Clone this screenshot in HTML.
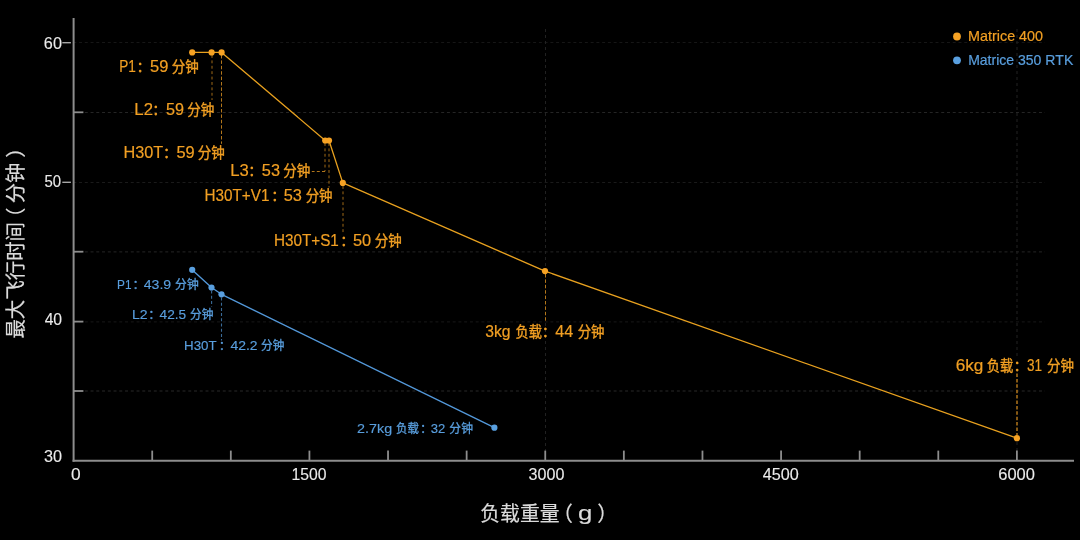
<!DOCTYPE html>
<html lang="zh">
<head>
<meta charset="utf-8">
<title>Matrice 400 vs Matrice 350 RTK</title>
<style>
html,body{margin:0;padding:0;background:#000;}
body{width:1080px;height:540px;overflow:hidden;}
svg{display:block;}
text{font-family:"Liberation Sans","Noto Sans CJK SC",sans-serif;font-kerning:none;}
</style>
</head>
<body>
<svg width="1080" height="540" viewBox="0 0 1080 540" role="img">
<desc>最大飞行时间（分钟） / 负载重量（g）. Matrice 400: P1：59 分钟, L2：59 分钟, H30T：59 分钟, L3：53 分钟, H30T+V1：53 分钟, H30T+S1：50 分钟, 3kg 负载：44 分钟, 6kg 负载：31 分钟. Matrice 350 RTK: P1：43.9 分钟, L2：42.5 分钟, H30T：42.2 分钟, 2.7kg 负载：32 分钟.</desc>
<rect width="1080" height="540" fill="#000"/>
<g opacity="0.999">
<line x1="73.3" y1="42.50" x2="1045" y2="42.50" stroke="#171717" stroke-width="1" stroke-dasharray="3 2.748"/>
<line x1="73.3" y1="112.50" x2="1045" y2="112.50" stroke="#262626" stroke-width="1" stroke-dasharray="3 2.748"/>
<line x1="73.3" y1="182.45" x2="1045" y2="182.45" stroke="#1d1d1d" stroke-width="1" stroke-dasharray="3 2.748"/>
<line x1="73.3" y1="251.90" x2="1045" y2="251.90" stroke="#272727" stroke-width="1" stroke-dasharray="3 2.748"/>
<line x1="73.3" y1="321.90" x2="1045" y2="321.90" stroke="#1a1a1a" stroke-width="1" stroke-dasharray="3 2.748"/>
<line x1="73.3" y1="391.00" x2="1045" y2="391.00" stroke="#2a2a2a" stroke-width="1" stroke-dasharray="3 2.748"/>
<line x1="545.5" y1="29.0" x2="545.5" y2="268.0" stroke="#222222" stroke-width="1.1" stroke-dasharray="3 3"/>
<line x1="545.5" y1="323.0" x2="545.5" y2="459.8" stroke="#222222" stroke-width="1.1" stroke-dasharray="3 3"/>
<line x1="1017.0" y1="29.0" x2="1017.0" y2="359.0" stroke="#222222" stroke-width="1.1" stroke-dasharray="3 3"/>
<line x1="1017.0" y1="442.0" x2="1017.0" y2="450.8" stroke="#222222" stroke-width="1.1" stroke-dasharray="3 3"/>
<line x1="73.6" y1="18" x2="73.6" y2="461.8" stroke="#8e8e8e" stroke-width="2"/>
<line x1="72.6" y1="460.8" x2="1074" y2="460.8" stroke="#8e8e8e" stroke-width="2"/>
<line x1="152.21" y1="450.6" x2="152.21" y2="460.8" stroke="#8e8e8e" stroke-width="1.8"/>
<line x1="230.82" y1="450.6" x2="230.82" y2="460.8" stroke="#8e8e8e" stroke-width="1.8"/>
<line x1="309.42" y1="450.6" x2="309.42" y2="460.8" stroke="#8e8e8e" stroke-width="1.8"/>
<line x1="388.03" y1="450.6" x2="388.03" y2="460.8" stroke="#8e8e8e" stroke-width="1.8"/>
<line x1="466.64" y1="450.6" x2="466.64" y2="460.8" stroke="#8e8e8e" stroke-width="1.8"/>
<line x1="545.25" y1="450.6" x2="545.25" y2="460.8" stroke="#8e8e8e" stroke-width="1.8"/>
<line x1="623.86" y1="450.6" x2="623.86" y2="460.8" stroke="#8e8e8e" stroke-width="1.8"/>
<line x1="702.47" y1="450.6" x2="702.47" y2="460.8" stroke="#8e8e8e" stroke-width="1.8"/>
<line x1="781.08" y1="450.6" x2="781.08" y2="460.8" stroke="#8e8e8e" stroke-width="1.8"/>
<line x1="859.68" y1="450.6" x2="859.68" y2="460.8" stroke="#8e8e8e" stroke-width="1.8"/>
<line x1="938.29" y1="450.6" x2="938.29" y2="460.8" stroke="#8e8e8e" stroke-width="1.8"/>
<line x1="1016.90" y1="450.6" x2="1016.90" y2="460.8" stroke="#8e8e8e" stroke-width="1.8"/>
<line x1="62.3" y1="42.70" x2="70.9" y2="42.70" stroke="#a8a8a8" stroke-width="1.4"/>
<line x1="62.3" y1="182.30" x2="70.9" y2="182.30" stroke="#a8a8a8" stroke-width="1.4"/>
<line x1="73.6" y1="112.30" x2="83.4" y2="112.30" stroke="#8e8e8e" stroke-width="1.8"/>
<line x1="73.6" y1="251.70" x2="83.4" y2="251.70" stroke="#8e8e8e" stroke-width="1.8"/>
<line x1="73.6" y1="321.60" x2="83.4" y2="321.60" stroke="#8e8e8e" stroke-width="1.8"/>
<line x1="73.6" y1="391.00" x2="83.4" y2="391.00" stroke="#8e8e8e" stroke-width="1.8"/>
<text x="43.88" y="49.20" font-size="16.00" fill="#ececec" textLength="18.06" lengthAdjust="spacingAndGlyphs" stroke="#ececec" stroke-width="0.12">60</text>
<text x="44.40" y="187.00" font-size="16.00" fill="#ececec" textLength="16.58" lengthAdjust="spacingAndGlyphs" stroke="#ececec" stroke-width="0.12">50</text>
<text x="44.64" y="325.00" font-size="16.00" fill="#ececec" textLength="17.47" lengthAdjust="spacingAndGlyphs" stroke="#ececec" stroke-width="0.12">40</text>
<text x="44.08" y="462.00" font-size="16.00" fill="#ececec" textLength="18.05" lengthAdjust="spacingAndGlyphs" stroke="#ececec" stroke-width="0.12">30</text>
<text x="71.02" y="480.00" font-size="16.00" fill="#ececec" textLength="9.66" lengthAdjust="spacingAndGlyphs" stroke="#ececec" stroke-width="0.12">0</text>
<text x="291.60" y="480.00" font-size="16.00" fill="#ececec" textLength="35.01" lengthAdjust="spacingAndGlyphs" stroke="#ececec" stroke-width="0.12">1500</text>
<text x="528.59" y="480.00" font-size="16.00" fill="#ececec" textLength="35.84" lengthAdjust="spacingAndGlyphs" stroke="#ececec" stroke-width="0.12">3000</text>
<text x="762.83" y="480.00" font-size="16.00" fill="#ececec" textLength="36.00" lengthAdjust="spacingAndGlyphs" stroke="#ececec" stroke-width="0.12">4500</text>
<text x="998.26" y="480.00" font-size="16.00" fill="#ececec" textLength="36.68" lengthAdjust="spacingAndGlyphs" stroke="#ececec" stroke-width="0.12">6000</text>
<text x="480.25" y="521.00" font-size="20.40" fill="#dcdcdc" textLength="79.43" lengthAdjust="spacingAndGlyphs" stroke="#dcdcdc" stroke-width="0.2">负载重量</text>
<text x="552.48" y="521.00" font-size="20.40" fill="#dcdcdc" stroke="#dcdcdc" stroke-width="0.2">（</text>
<text x="577.92" y="520.40" font-size="20.50" fill="#dcdcdc" textLength="14.35" lengthAdjust="spacingAndGlyphs" stroke="#dcdcdc" stroke-width="0.15">g</text>
<text x="597.22" y="521.00" font-size="20.40" fill="#dcdcdc" stroke="#dcdcdc" stroke-width="0.2">）</text>
<text transform="translate(23.10 338.61) rotate(-90)" x="0" y="0" font-size="20.20" fill="#dcdcdc" textLength="116.67" lengthAdjust="spacingAndGlyphs" stroke="#dcdcdc" stroke-width="0.2">最大飞行时间</text>
<text transform="translate(23.10 227.65) rotate(-90)" x="0" y="0" font-size="20.20" fill="#dcdcdc" stroke="#dcdcdc" stroke-width="0.2">（</text>
<text transform="translate(23.10 203.15) rotate(-90)" x="0" y="0" font-size="20.20" fill="#dcdcdc" textLength="40.52" lengthAdjust="spacingAndGlyphs" stroke="#dcdcdc" stroke-width="0.2">分钟</text>
<text transform="translate(23.10 157.75) rotate(-90)" x="0" y="0" font-size="20.20" fill="#dcdcdc" stroke="#dcdcdc" stroke-width="0.2">）</text>
<line x1="212.00" y1="55.00" x2="212.00" y2="100.00" stroke="#a06a19" stroke-width="1.00" stroke-dasharray="2.9 2.5"/>
<line x1="221.50" y1="55.00" x2="221.50" y2="143.80" stroke="#b3771c" stroke-width="1.00" stroke-dasharray="3.5 1.9"/>
<line x1="325.00" y1="143.00" x2="325.00" y2="171.30" stroke="#a06a19" stroke-width="1.00" stroke-dasharray="2.9 2.5"/>
<line x1="325.00" y1="171.50" x2="311.80" y2="171.50" stroke="#b3771c" stroke-width="1.00" stroke-dasharray="3 2.2"/>
<line x1="329.00" y1="143.00" x2="329.00" y2="187.50" stroke="#a06a19" stroke-width="1.00" stroke-dasharray="2.9 2.5"/>
<line x1="343.00" y1="186.00" x2="343.00" y2="232.50" stroke="#a06a19" stroke-width="1.00" stroke-dasharray="2.9 2.5"/>
<line x1="545.50" y1="274.00" x2="545.50" y2="321.50" stroke="#b3771c" stroke-width="1.00" stroke-dasharray="3.5 1.9"/>
<line x1="1017.00" y1="373.50" x2="1017.00" y2="435.00" stroke="#b3771c" stroke-width="1.50" stroke-dasharray="3.5 1.9"/>
<line x1="211.60" y1="290.50" x2="211.60" y2="306.50" stroke="#3b6c98" stroke-width="1.10" stroke-dasharray="3 2.2"/>
<line x1="221.50" y1="297.50" x2="221.50" y2="340.50" stroke="#3b6c98" stroke-width="1.10" stroke-dasharray="3 2.2"/>
<polyline fill="none" stroke="#e9a220" stroke-width="1.3" stroke-linejoin="round" points="192.2,52.4 211.6,52.4 221.6,52.4 325.2,140.5 329.0,140.5 342.8,182.9 545.0,271.1 1016.9,438.2"/>
<polyline fill="none" stroke="#5499da" stroke-width="1.35" stroke-linejoin="round" points="192.2,269.9 211.5,287.5 221.5,294.3 494.4,427.7"/>
<circle cx="192.2" cy="52.4" r="3.1" fill="#f7a325"/>
<circle cx="211.6" cy="52.4" r="3.1" fill="#f7a325"/>
<circle cx="221.6" cy="52.4" r="3.1" fill="#f7a325"/>
<circle cx="325.2" cy="140.5" r="3.1" fill="#f7a325"/>
<circle cx="329.0" cy="140.5" r="3.1" fill="#f7a325"/>
<circle cx="342.8" cy="182.9" r="3.1" fill="#f7a325"/>
<circle cx="545.0" cy="271.1" r="3.1" fill="#f7a325"/>
<circle cx="1016.9" cy="438.2" r="3.1" fill="#f7a325"/>
<circle cx="192.2" cy="269.9" r="3.1" fill="#5aa0e0"/>
<circle cx="211.5" cy="287.5" r="3.1" fill="#5aa0e0"/>
<circle cx="221.5" cy="294.3" r="3.1" fill="#5aa0e0"/>
<circle cx="494.4" cy="427.7" r="3.1" fill="#5aa0e0"/>
<text x="119.28" y="71.75" font-size="16.00" fill="#f2a024" textLength="16.63" lengthAdjust="spacingAndGlyphs" stroke="#f2a024" stroke-width="0.20">P1</text>
<text x="136.47" y="71.75" font-size="14.50" fill="#f2a024" stroke="#f2a024" stroke-width="0.4">：</text>
<text x="150.14" y="71.75" font-size="16.00" fill="#f2a024" textLength="18.34" lengthAdjust="spacingAndGlyphs" stroke="#f2a024" stroke-width="0.20">59</text>
<text x="171.65" y="71.75" font-size="14.50" fill="#f2a024" textLength="27.05" lengthAdjust="spacingAndGlyphs" stroke="#f2a024" stroke-width="0.4">分钟</text>
<text x="134.33" y="115.00" font-size="16.00" fill="#f2a024" textLength="18.61" lengthAdjust="spacingAndGlyphs" stroke="#f2a024" stroke-width="0.20">L2</text>
<text x="152.32" y="115.00" font-size="14.50" fill="#f2a024" stroke="#f2a024" stroke-width="0.4">：</text>
<text x="166.05" y="115.00" font-size="16.00" fill="#f2a024" textLength="18.02" lengthAdjust="spacingAndGlyphs" stroke="#f2a024" stroke-width="0.20">59</text>
<text x="187.25" y="115.00" font-size="14.50" fill="#f2a024" textLength="27.10" lengthAdjust="spacingAndGlyphs" stroke="#f2a024" stroke-width="0.4">分钟</text>
<text x="123.57" y="158.00" font-size="16.00" fill="#f2a024" textLength="39.70" lengthAdjust="spacingAndGlyphs" stroke="#f2a024" stroke-width="0.20">H30T</text>
<text x="163.07" y="158.00" font-size="14.50" fill="#f2a024" stroke="#f2a024" stroke-width="0.4">：</text>
<text x="176.44" y="158.00" font-size="16.00" fill="#f2a024" textLength="18.23" lengthAdjust="spacingAndGlyphs" stroke="#f2a024" stroke-width="0.20">59</text>
<text x="197.80" y="158.00" font-size="14.50" fill="#f2a024" textLength="27.05" lengthAdjust="spacingAndGlyphs" stroke="#f2a024" stroke-width="0.4">分钟</text>
<text x="230.34" y="176.00" font-size="16.00" fill="#f2a024" textLength="18.49" lengthAdjust="spacingAndGlyphs" stroke="#f2a024" stroke-width="0.20">L3</text>
<text x="248.18" y="176.00" font-size="14.50" fill="#f2a024" stroke="#f2a024" stroke-width="0.4">：</text>
<text x="261.85" y="176.00" font-size="16.00" fill="#f2a024" textLength="18.17" lengthAdjust="spacingAndGlyphs" stroke="#f2a024" stroke-width="0.20">53</text>
<text x="283.20" y="176.00" font-size="14.50" fill="#f2a024" textLength="27.05" lengthAdjust="spacingAndGlyphs" stroke="#f2a024" stroke-width="0.4">分钟</text>
<text x="204.55" y="200.80" font-size="16.00" fill="#f2a024" textLength="64.90" lengthAdjust="spacingAndGlyphs" stroke="#f2a024" stroke-width="0.20">H30T+V1</text>
<text x="271.27" y="200.80" font-size="14.50" fill="#f2a024" stroke="#f2a024" stroke-width="0.4">：</text>
<text x="283.65" y="200.80" font-size="16.00" fill="#f2a024" textLength="18.17" lengthAdjust="spacingAndGlyphs" stroke="#f2a024" stroke-width="0.20">53</text>
<text x="305.70" y="200.80" font-size="14.50" fill="#f2a024" textLength="26.85" lengthAdjust="spacingAndGlyphs" stroke="#f2a024" stroke-width="0.4">分钟</text>
<text x="273.95" y="245.50" font-size="16.00" fill="#f2a024" textLength="64.90" lengthAdjust="spacingAndGlyphs" stroke="#f2a024" stroke-width="0.20">H30T+S1</text>
<text x="340.18" y="245.50" font-size="14.50" fill="#f2a024" stroke="#f2a024" stroke-width="0.4">：</text>
<text x="352.95" y="245.50" font-size="16.00" fill="#f2a024" textLength="18.19" lengthAdjust="spacingAndGlyphs" stroke="#f2a024" stroke-width="0.20">50</text>
<text x="374.80" y="245.50" font-size="14.50" fill="#f2a024" textLength="26.95" lengthAdjust="spacingAndGlyphs" stroke="#f2a024" stroke-width="0.4">分钟</text>
<text x="485.20" y="337.30" font-size="16.00" fill="#f2a024" textLength="25.31" lengthAdjust="spacingAndGlyphs" stroke="#f2a024" stroke-width="0.20">3kg</text>
<text x="515.60" y="337.30" font-size="14.50" fill="#f2a024" textLength="26.31" lengthAdjust="spacingAndGlyphs" stroke="#f2a024" stroke-width="0.4">负载</text>
<text x="541.67" y="337.30" font-size="14.50" fill="#f2a024" stroke="#f2a024" stroke-width="0.4">：</text>
<text x="555.23" y="337.30" font-size="16.00" fill="#f2a024" textLength="17.94" lengthAdjust="spacingAndGlyphs" stroke="#f2a024" stroke-width="0.20">44</text>
<text x="577.70" y="337.30" font-size="14.50" fill="#f2a024" textLength="26.80" lengthAdjust="spacingAndGlyphs" stroke="#f2a024" stroke-width="0.4">分钟</text>
<text x="955.73" y="371.20" font-size="16.00" fill="#f2a024" textLength="27.68" lengthAdjust="spacingAndGlyphs" stroke="#f2a024" stroke-width="0.20">6kg</text>
<text x="986.85" y="371.20" font-size="14.50" fill="#f2a024" textLength="26.46" lengthAdjust="spacingAndGlyphs" stroke="#f2a024" stroke-width="0.4">负载</text>
<text x="1013.38" y="371.20" font-size="14.50" fill="#f2a024" stroke="#f2a024" stroke-width="0.4">：</text>
<text x="1027.08" y="371.20" font-size="16.00" fill="#f2a024" textLength="15.08" lengthAdjust="spacingAndGlyphs" stroke="#f2a024" stroke-width="0.20">31</text>
<text x="1047.10" y="371.20" font-size="14.50" fill="#f2a024" textLength="26.95" lengthAdjust="spacingAndGlyphs" stroke="#f2a024" stroke-width="0.4">分钟</text>
<text x="117.03" y="288.80" font-size="13.30" fill="#5a9fde" textLength="14.45" lengthAdjust="spacingAndGlyphs" stroke="#5a9fde" stroke-width="0.16">P1</text>
<text x="132.47" y="288.80" font-size="12.50" fill="#5a9fde" stroke="#5a9fde" stroke-width="0.32">：</text>
<text x="143.68" y="288.80" font-size="13.30" fill="#5a9fde" textLength="27.49" lengthAdjust="spacingAndGlyphs" stroke="#5a9fde" stroke-width="0.16">43.9</text>
<text x="175.12" y="288.80" font-size="12.50" fill="#5a9fde" textLength="23.59" lengthAdjust="spacingAndGlyphs" stroke="#5a9fde" stroke-width="0.32">分钟</text>
<text x="132.04" y="319.10" font-size="13.30" fill="#5a9fde" textLength="15.66" lengthAdjust="spacingAndGlyphs" stroke="#5a9fde" stroke-width="0.16">L2</text>
<text x="148.28" y="319.10" font-size="12.50" fill="#5a9fde" stroke="#5a9fde" stroke-width="0.32">：</text>
<text x="159.59" y="319.10" font-size="13.30" fill="#5a9fde" textLength="26.59" lengthAdjust="spacingAndGlyphs" stroke="#5a9fde" stroke-width="0.16">42.5</text>
<text x="190.02" y="319.10" font-size="12.50" fill="#5a9fde" textLength="23.49" lengthAdjust="spacingAndGlyphs" stroke="#5a9fde" stroke-width="0.32">分钟</text>
<text x="184.01" y="349.70" font-size="13.30" fill="#5a9fde" textLength="32.60" lengthAdjust="spacingAndGlyphs" stroke="#5a9fde" stroke-width="0.16">H30T</text>
<text x="218.68" y="349.70" font-size="12.50" fill="#5a9fde" stroke="#5a9fde" stroke-width="0.32">：</text>
<text x="230.48" y="349.70" font-size="13.30" fill="#5a9fde" textLength="27.12" lengthAdjust="spacingAndGlyphs" stroke="#5a9fde" stroke-width="0.16">42.2</text>
<text x="261.12" y="349.70" font-size="12.50" fill="#5a9fde" textLength="23.29" lengthAdjust="spacingAndGlyphs" stroke="#5a9fde" stroke-width="0.32">分钟</text>
<text x="357.08" y="432.50" font-size="13.30" fill="#5a9fde" textLength="35.04" lengthAdjust="spacingAndGlyphs" stroke="#5a9fde" stroke-width="0.16">2.7kg</text>
<text x="396.04" y="432.50" font-size="12.50" fill="#5a9fde" textLength="22.81" lengthAdjust="spacingAndGlyphs" stroke="#5a9fde" stroke-width="0.32">负载</text>
<text x="419.88" y="432.50" font-size="12.50" fill="#5a9fde" stroke="#5a9fde" stroke-width="0.32">：</text>
<text x="430.80" y="432.50" font-size="13.30" fill="#5a9fde" textLength="14.56" lengthAdjust="spacingAndGlyphs" stroke="#5a9fde" stroke-width="0.16">32</text>
<text x="449.37" y="432.50" font-size="12.50" fill="#5a9fde" textLength="23.64" lengthAdjust="spacingAndGlyphs" stroke="#5a9fde" stroke-width="0.32">分钟</text>
<circle cx="957" cy="36.5" r="3.9" fill="#f7a325"/>
<circle cx="957" cy="60.3" r="3.9" fill="#5aa0e0"/>
<text x="968.12" y="41.20" font-size="14.40" fill="#f2a024" textLength="74.94" lengthAdjust="spacingAndGlyphs" stroke="#f2a024" stroke-width="0.22">Matrice 400</text>
<text x="968.15" y="65.20" font-size="14.40" fill="#5a9fde" textLength="105.11" lengthAdjust="spacingAndGlyphs" stroke="#5a9fde" stroke-width="0.22">Matrice 350 RTK</text>
</g>
</svg>
</body>
</html>
